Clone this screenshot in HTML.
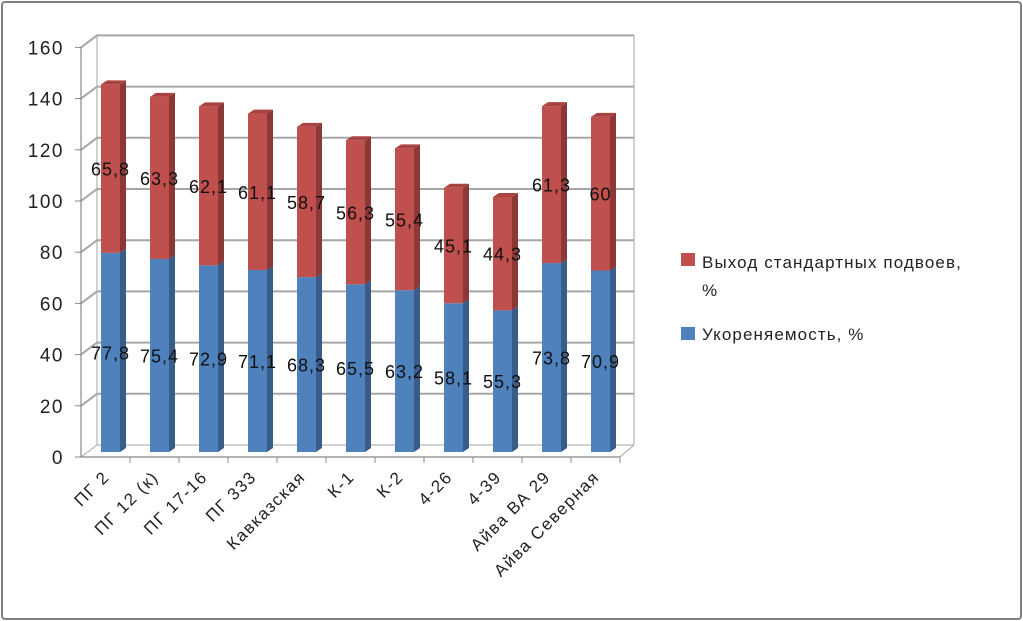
<!DOCTYPE html>
<html><head><meta charset="utf-8"><style>
body{margin:0;background:#fff}
svg{display:block;font-family:"Liberation Sans","DejaVu Sans",sans-serif}
</style></head><body>
<svg id="chart" width="1023" height="621" viewBox="0 0 1023 621">
<rect x="2" y="2" width="1019" height="617" rx="3" fill="#fff" stroke="#808080" stroke-width="2"/>
<g id="grid"></g><g id="bars"></g><g id="labels"></g><g id="axes"></g>
<g>
<rect x="681" y="253" width="14" height="13" fill="#C0504D"/>
<text x="702" y="268" font-size="17" letter-spacing="1.1" fill="#222">Выход стандартных подвоев,</text>
<text x="702" y="296" font-size="17" fill="#222">%</text>
<rect x="681" y="327" width="14" height="13" fill="#4F81BD"/>
<text x="702" y="340" font-size="17" letter-spacing="1.1" fill="#222">Укореняемость,  %</text>
</g>
</svg>
<script>
const categories=["ПГ 2","ПГ 12 (к)","ПГ 17-16","ПГ 333","Кавказская","К-1","К-2","4-26","4-39","Айва ВА 29","Айва Северная"];
const rooting=[77.8,75.4,72.9,71.1,68.3,65.5,63.2,58.1,55.3,73.8,70.9];
const output=[65.8,63.3,62.1,61.1,58.7,56.3,55.4,45.1,44.3,61.3,60];
const ticks=[0,20,40,60,80,100,120,140,160];
const NS="http://www.w3.org/2000/svg";
const X0=81,CW=49,FY0=457,K=2.56,DX=16,DY=-12,BY0=452;
function yF(v){return FY0-v*K;}
function yB(v){return FY0+DY-v*K;}
function yBar(v){return BY0-v*K;}
function mk(p,tag,at){const e=document.createElementNS(NS,tag);for(const k in at)e.setAttribute(k,at[k]);p.appendChild(e);return e;}
const grid=document.getElementById('grid'),bars=document.getElementById('bars'),labels=document.getElementById('labels'),axes=document.getElementById('axes');
const xR=X0+CW*categories.length;
ticks.forEach(t=>{
 const g=mk(grid,'path',{d:`M${X0} ${yF(t)} L${X0+DX} ${yB(t)} L${xR+DX-2} ${yB(t)}`,stroke:'#a6a6a6','stroke-width':t===0?1:2,fill:'none'});
 
 
 const tl=mk(axes,'line',{x1:X0-6,y1:yF(t),x2:X0,y2:yF(t),stroke:'#888'});
 
 
 const tx=mk(axes,'text',{x:X0-17,y:yF(t)+7,'text-anchor':'end','font-size':19,'letter-spacing':1.5,fill:'#222'});
 tx.textContent=t;
 
 
});
mk(grid,'path',{d:`M${X0+DX} ${yB(0)} L${X0+DX} ${yB(160)} M${xR+DX-2} ${yB(0)} L${xR+DX-2} ${yB(160)} M${xR} ${FY0} L${xR+DX-2} ${yB(0)}`,stroke:'#a6a6a6','stroke-width':1,fill:'none'});
const ax=mk(axes,'path',{d:`M${X0} ${yF(160)} L${X0} ${FY0} L${xR} ${FY0}`,stroke:'#888','stroke-width':1.2,fill:'none'});


function bar(x,v0,v1,front,side,top,name){
 const g=mk(bars,'g',{});
 
 
 const w=19,sd=6,td=-4;
 const y0=yBar(v0),y1=yBar(v1);
 mk(g,'rect',{x:x,y:y1,width:w,height:y0-y1,fill:front});
 mk(g,'path',{d:`M${x+w} ${y0} L${x+w+sd} ${y0+td} L${x+w+sd} ${y1+td} L${x+w} ${y1}Z`,fill:side});
 if(top) mk(g,'path',{d:`M${x} ${y1} L${x+sd} ${y1+td} L${x+w+sd} ${y1+td} L${x+w} ${y1}Z`,fill:top});
}
categories.forEach((c,i)=>{
 const x=X0+CW*i+20, cx=x+9.5;
 bar(x,0,rooting[i],'#4F81BD','#385D8A',null,'bar-rooting-'+i);
 bar(x,rooting[i],rooting[i]+output[i],'#C0504D','#8C3836','#A94442','bar-output-'+i);
 const l1=mk(labels,'text',{x:cx,y:yBar(rooting[i]/2)+7,'text-anchor':'middle','font-size':18,'letter-spacing':1,fill:'#111'});
 l1.textContent=String(rooting[i]).replace('.',',');
 
 
 const l2=mk(labels,'text',{x:cx,y:yBar(rooting[i]+output[i]/2)+7,'text-anchor':'middle','font-size':18,'letter-spacing':1,fill:'#111'});
 l2.textContent=String(output[i]).replace('.',',');
 
 
 const tk=mk(axes,'line',{x1:X0+CW*(i+1),y1:FY0,x2:X0+CW*(i+1),y2:FY0+6,stroke:'#888'});
 
 
 const ccx=X0+CW*i+CW/2+5, cy=478;
 const t=mk(axes,'text',{x:ccx,y:cy,'text-anchor':'end','font-size':17,'letter-spacing':1.5,fill:'#222',transform:`rotate(-45 ${ccx} ${cy})`});
 t.textContent=c;
 
 
});
</script>
</body></html>
